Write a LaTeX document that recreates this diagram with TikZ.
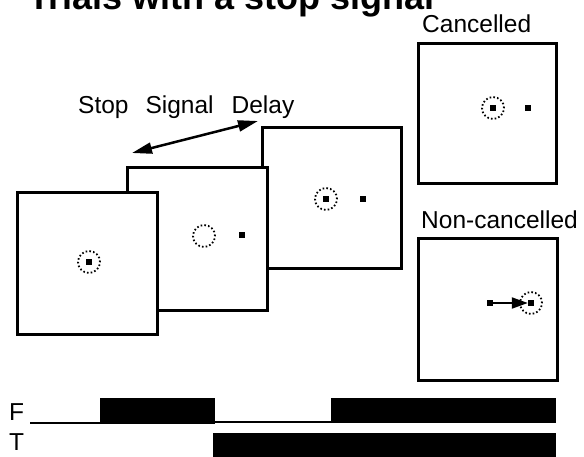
\documentclass[tikz,border=0pt]{standalone}
\usepackage{fontspec}
\setmainfont{Liberation Sans}
\newfontfamily\lblfont{Liberation Sans}
\newfontfamily\ttlfont{Liberation Sans Bold}
\usetikzlibrary{arrows.meta}
\tikzset{
  screen/.style={draw, fill=white, line width=3pt, inner sep=0pt},
  fixpt/.style={fill=black, minimum size=6pt, inner sep=0pt},
  dotcirc/.style={circle, draw, line width=1.8pt, dash pattern=on 1.6pt off 2.2pt, minimum size=22pt, inner sep=0pt},
  lbl/.style={font=\lblfont\fontsize{24.5}{27}\selectfont, inner sep=0pt, anchor=base west},
}
\begin{document}
\begin{tikzpicture}[x=1pt, y=-1pt]
\clip (0,0) rectangle (584,456);
\fill[white] (0,0) rectangle (584,456);
% title (cut at the top)
\node[font=\ttlfont\fontsize{36}{40}\selectfont, inner sep=0pt, anchor=base west] (title) at (28,9.5) {Trials with a stop signal};
% screens
\node[screen, minimum width=139pt, minimum height=141pt] (s3) at (331.5,197.5) {};
\node[screen, minimum width=140pt, minimum height=143pt] (s2) at (197,238.5) {};
\node[screen, minimum width=140pt, minimum height=142pt] (s1) at (87,263) {};
\node[screen, minimum width=138pt, minimum height=140pt] (cb) at (487,113) {};
\node[screen, minimum width=139pt, minimum height=142pt] (nb) at (487.5,309) {};
% screen 1
\node[dotcirc] (c1) at (89,262) {};
\node[fixpt] (f1) at (89,262) {};
% screen 2
\node[dotcirc] (c2) at (204,236) {};
\node[fixpt] (t2) at (242,235) {};
% screen 3
\node[dotcirc] (c3) at (326,199) {};
\node[fixpt] (f3) at (326,199) {};
\node[fixpt] (t3) at (363,199) {};
% cancelled
\node[dotcirc] (cc) at (493,108) {};
\node[fixpt] (cf) at (493,108) {};
\node[fixpt] (ct) at (528,108) {};
% non-cancelled
\node[fixpt] (nf) at (490,303) {};
\node[dotcirc] (nc) at (531,303) {};
\node[fixpt] (nt) at (531,303) {};
\draw[line width=2pt, -{Triangle[length=16pt, width=11pt]}] (nf) -- (nt);
% labels
\node[lbl] (lc) at (422,32) {Cancelled};
\node[lbl] (ln) at (421,228) {Non-cancelled};
\node[lbl] (lssd) at (78,113) {Stop\hspace{17pt}Signal\hspace{18pt}Delay};
% stop signal delay arrow
\coordinate (a1) at (132,153);
\coordinate (a2) at (258,121);
\draw[line width=2.5pt, {Triangle[length=20pt, width=11pt]}-{Triangle[length=20pt, width=11pt]}] (a1) -- (a2);
% timeline
\node[lbl] (lf) at (9,420) {F};
\node[lbl] (lt) at (9,450) {T};
\draw[line width=2pt] (30,423) -- (101,423);
\fill (100,398) rectangle (215,423.5);
\draw[line width=2pt] (214,422) -- (332,422);
\fill (331,398) rectangle (556,423);
\fill (213,433) rectangle (556,460);
\end{tikzpicture}
\end{document}
